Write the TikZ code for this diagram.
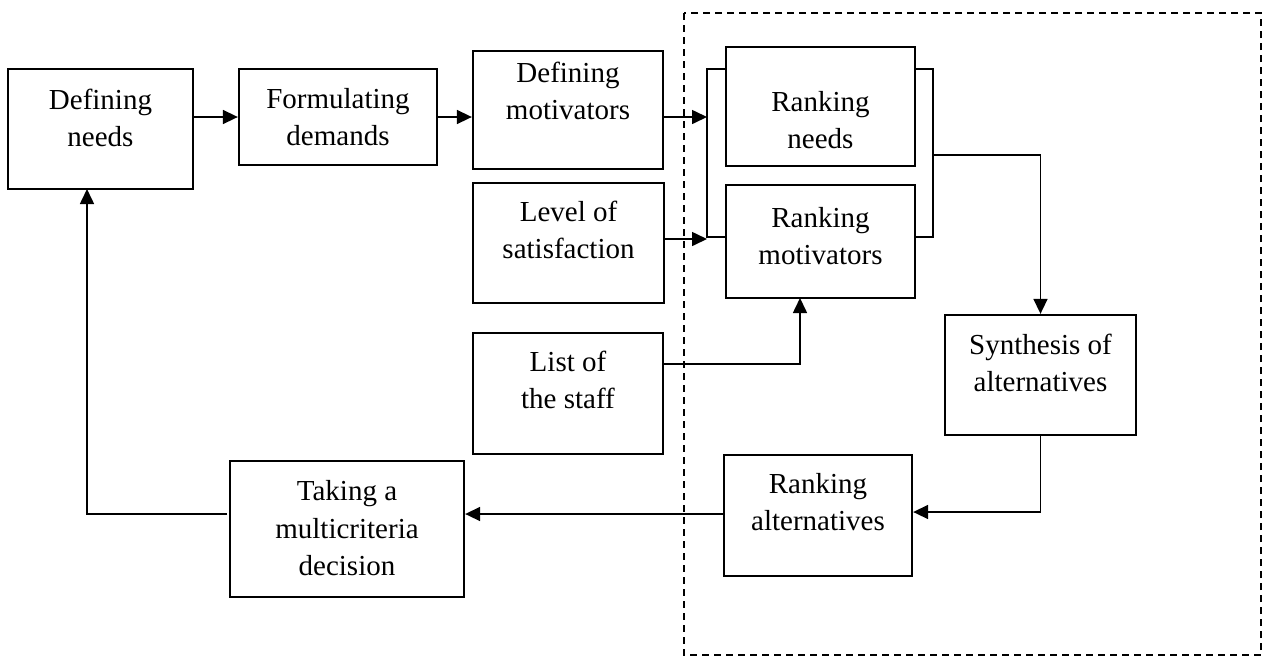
\documentclass[tikz,border=0pt]{standalone}
\usepackage{fontspec}
\setmainfont{Liberation Serif}
\usetikzlibrary{arrows.meta}
\begin{document}
\begin{tikzpicture}[x=1pt,y=-1pt,
  box/.style={draw=black, line width=2.3pt, inner sep=0pt, fill=white},
  txt/.style={align=center, inner sep=0pt, font=\fontsize{29}{37.5}\selectfont},
  conn/.style={line width=1.6pt, draw=black},
  arr/.style={conn, -{Triangle[length=15pt,width=14pt]}},
  dashbox/.style={line width=1.8pt, dash pattern=on 7pt off 5pt}]
\useasboundingbox (0,0) rectangle (1268,662);
% dashed frame
\draw[dashbox] (684,13) rectangle (1261,655);
% boxes
\node[box, minimum width=185pt, minimum height=120pt] (dn) at (100.5,129) {};
\node[box, minimum width=198pt, minimum height=96pt] (fd) at (338,117) {};
\node[box, minimum width=190pt, minimum height=118pt] (dm) at (568,110) {};
\node[box, minimum width=191pt, minimum height=120pt] (lv) at (568.5,243) {};
\node[box, minimum width=189pt, minimum height=119pt] (rn) at (820.5,106.5) {};
\node[box, minimum width=189pt, minimum height=113pt] (rm) at (820.5,241.5) {};
\node[box, minimum width=190pt, minimum height=121pt] (ls) at (568,393.5) {};
\node[box, minimum width=191pt, minimum height=120pt] (syn) at (1040.5,375) {};
\node[box, minimum width=188pt, minimum height=121pt] (ra) at (818,515.5) {};
\node[box, minimum width=234pt, minimum height=136pt] (tk) at (347,529) {};
% texts
\node[txt] (tdn) at (100.5,118) {Defining\\needs};
\node[txt] (tfd) at (338,117) {Formulating\\demands};
\node[txt] (tdm) at (568,91) {Defining\\motivators};
\node[txt] (tlv) at (568.5,230) {Level of\\satisfaction};
\node[txt] (trn) at (820.5,120) {Ranking\\needs};
\node[txt] (trm) at (820.5,236) {Ranking\\motivators};
\node[txt] (tls) at (568,380) {List of\\the staff};
\node[txt] (tsyn) at (1040.5,363) {Synthesis of\\alternatives};
\node[txt] (tra) at (818,502) {Ranking\\alternatives};
\node[txt] (ttk) at (347,528.5) {Taking a\\multicriteria\\decision};
% bracket coordinates
\coordinate (bl1) at (707,69);
\coordinate (bl2) at (707,237);
\coordinate (br1) at (933,69);
\coordinate (br2) at (933,237);
\coordinate (bin1) at (707,117);
\coordinate (bin2) at (707,239);
\coordinate (bout) at (933,155);
\coordinate (lsout) at (663,364);
\coordinate (rmin) at (800,298);
\coordinate (tkout) at (227,514);
\coordinate (fbend) at (87,514);
\coordinate (dnin) at (87,189);
% connectors
\draw[arr] (dn.east |- fd.west) -- (fd.west);
\draw[arr] (fd.east) -- (fd.east -| dm.west);
\draw[arr] (dm.east |- bin1) -- (bin1);
\draw[arr] (lv.east |- bin2) -- (bin2);
\draw[conn] (rn.west |- bl1) -- (bl1) -- (bl2) -- (rm.west |- bl2);
\draw[conn] (rn.east |- br1) -- (br1) -- (br2) -- (rm.east |- br2);
\draw[arr] (bout) -| (syn.north);
\draw[arr] (lsout) -| (rmin);
\draw[arr] (syn.south) -- (syn.south |- 0,512) -- (ra.east |- 0,512);
\draw[arr] (ra.west |- 0,514) -- (tk.east |- 0,514);
\draw[arr] (tkout) -- (fbend) -- (dnin);
\end{tikzpicture}
\end{document}
